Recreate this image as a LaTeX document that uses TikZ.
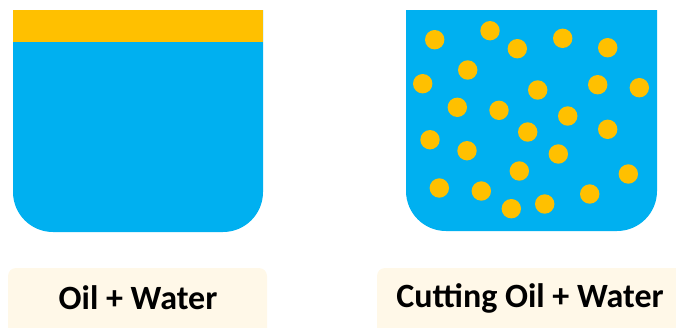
\documentclass[tikz,border=0pt]{standalone}
\usepackage{fontspec}
\setmainfont{Carlito}
\usepackage{xcolor}
\usetikzlibrary{positioning}
\definecolor{waterblue}{HTML}{00B0F0}
\definecolor{oilgold}{HTML}{FFC000}
\definecolor{cream}{HTML}{FFF8E8}
\tikzset{
  water/.style={fill=waterblue},
  oil/.style={fill=oilgold},
  capbox/.style={fill=cream, rounded corners=8pt},
  caption/.style={align=center, inner sep=0pt, font=\fontsize{34}{40}\selectfont\bfseries}}

\begin{document}
\begin{tikzpicture}[x=1pt, y=-1pt]
  \useasboundingbox (0,0) rectangle (676,327);
  \clip (0,0) rectangle (676,327);
  % left beaker: oil layer over water
  \fill[water] (13,10) {[rounded corners=40pt] -- (13,232) -- (263,232)} -- (263,10) -- cycle;
  \fill[oil] (13,10) rectangle (263,42);
  % right beaker: oil drops in water
  \fill[water] (406,10) {[rounded corners=40pt] -- (406,231) -- (657,231)} -- (657,10) -- cycle;
  \foreach \x/\y in {434.7/39.7, 490/30.7, 517.3/48.7, 562.7/38.3, 607.7/47.7,
      467.7/70, 422.7/83.7, 537.7/90, 597.7/84.7, 639.3/87.7,
      457.3/107.3, 499/110.3, 567.7/116, 527.7/132, 607.7/129.3,
      430/139.7, 467/150.7, 558.3/154, 519.3/171, 628.3/174,
      439.3/188, 481.3/191, 511.3/208.7, 544.7/204, 589.7/194}
    \fill[oil] (\x,\y) circle (9.7pt);
  % captions
  \fill[capbox] (8,268) rectangle (267,345);
  \fill[capbox] (377,268) rectangle (690,345);
  \node[caption] (mixleft) at (138,298) {Oil + Water};
  \node[caption] (mixright) at (530,298) {Cutting Oil + Water};
\end{tikzpicture}
\end{document}
